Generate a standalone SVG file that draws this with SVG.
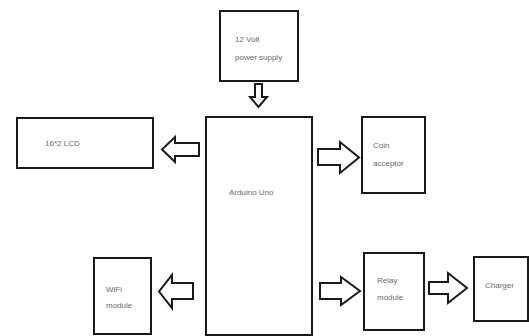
<svg xmlns="http://www.w3.org/2000/svg" width="529" height="336" viewBox="0 0 529 336">
<style>
.box{fill:#fff;stroke:#1a1a1a;stroke-width:2}
.arr{fill:#fff;stroke:#1a1a1a;stroke-width:2;stroke-linejoin:miter}
text{font-family:"Liberation Sans",Arial,sans-serif;font-size:8px;fill:#6a6a6a}
</style>
<rect width="529" height="336" fill="#fff"/>
<g id="power">
<rect class="box" x="220" y="11" width="78" height="70"/>
<text x="235" y="42">12 Volt</text>
<text x="235" y="60">power supply</text>
</g>
<g id="arduino">
<rect class="box" x="206" y="117" width="106" height="218"/>
<text x="229" y="195">Arduino Uno</text>
</g>
<g id="lcd">
<rect class="box" x="17" y="118" width="136" height="50"/>
<text x="45" y="146">16*2 LCD</text>
</g>
<g id="coin">
<rect class="box" x="362" y="117" width="63" height="76"/>
<text x="373" y="148">Coin</text>
<text x="373" y="166">acceptor</text>
</g>
<g id="wifi">
<rect class="box" x="94" y="258" width="57" height="76"/>
<text x="106" y="292">WiFi</text>
<text x="106" y="308">module</text>
</g>
<g id="relay">
<rect class="box" x="364" y="253" width="60" height="77"/>
<text x="377" y="283">Relay</text>
<text x="377" y="300">module</text>
</g>
<g id="charger">
<rect class="box" x="474" y="257" width="54" height="64"/>
<text x="485" y="288">Charger</text>
</g>
<g id="connectors">
<polygon class="arr" points="255,84 262,84 262,97 267,97 258.5,107 250,97 255,97"/>
<polygon class="arr" points="199,143 175,143 175,137 162,149.5 175,162 175,156 199,156"/>
<polygon class="arr" points="318,149 340,149 340,142 359,157.5 340,173 340,165 318,165"/>
<polygon class="arr" points="193,283 172,283 172,275 159,291.5 172,308 172,299 193,299"/>
<polygon class="arr" points="320,283 341,283 341,277 360,291 341,305 341,299 320,299"/>
<polygon class="arr" points="429,282 448,282 448,273 467,288 448,303 448,294 429,294"/>
</g>
</svg>
